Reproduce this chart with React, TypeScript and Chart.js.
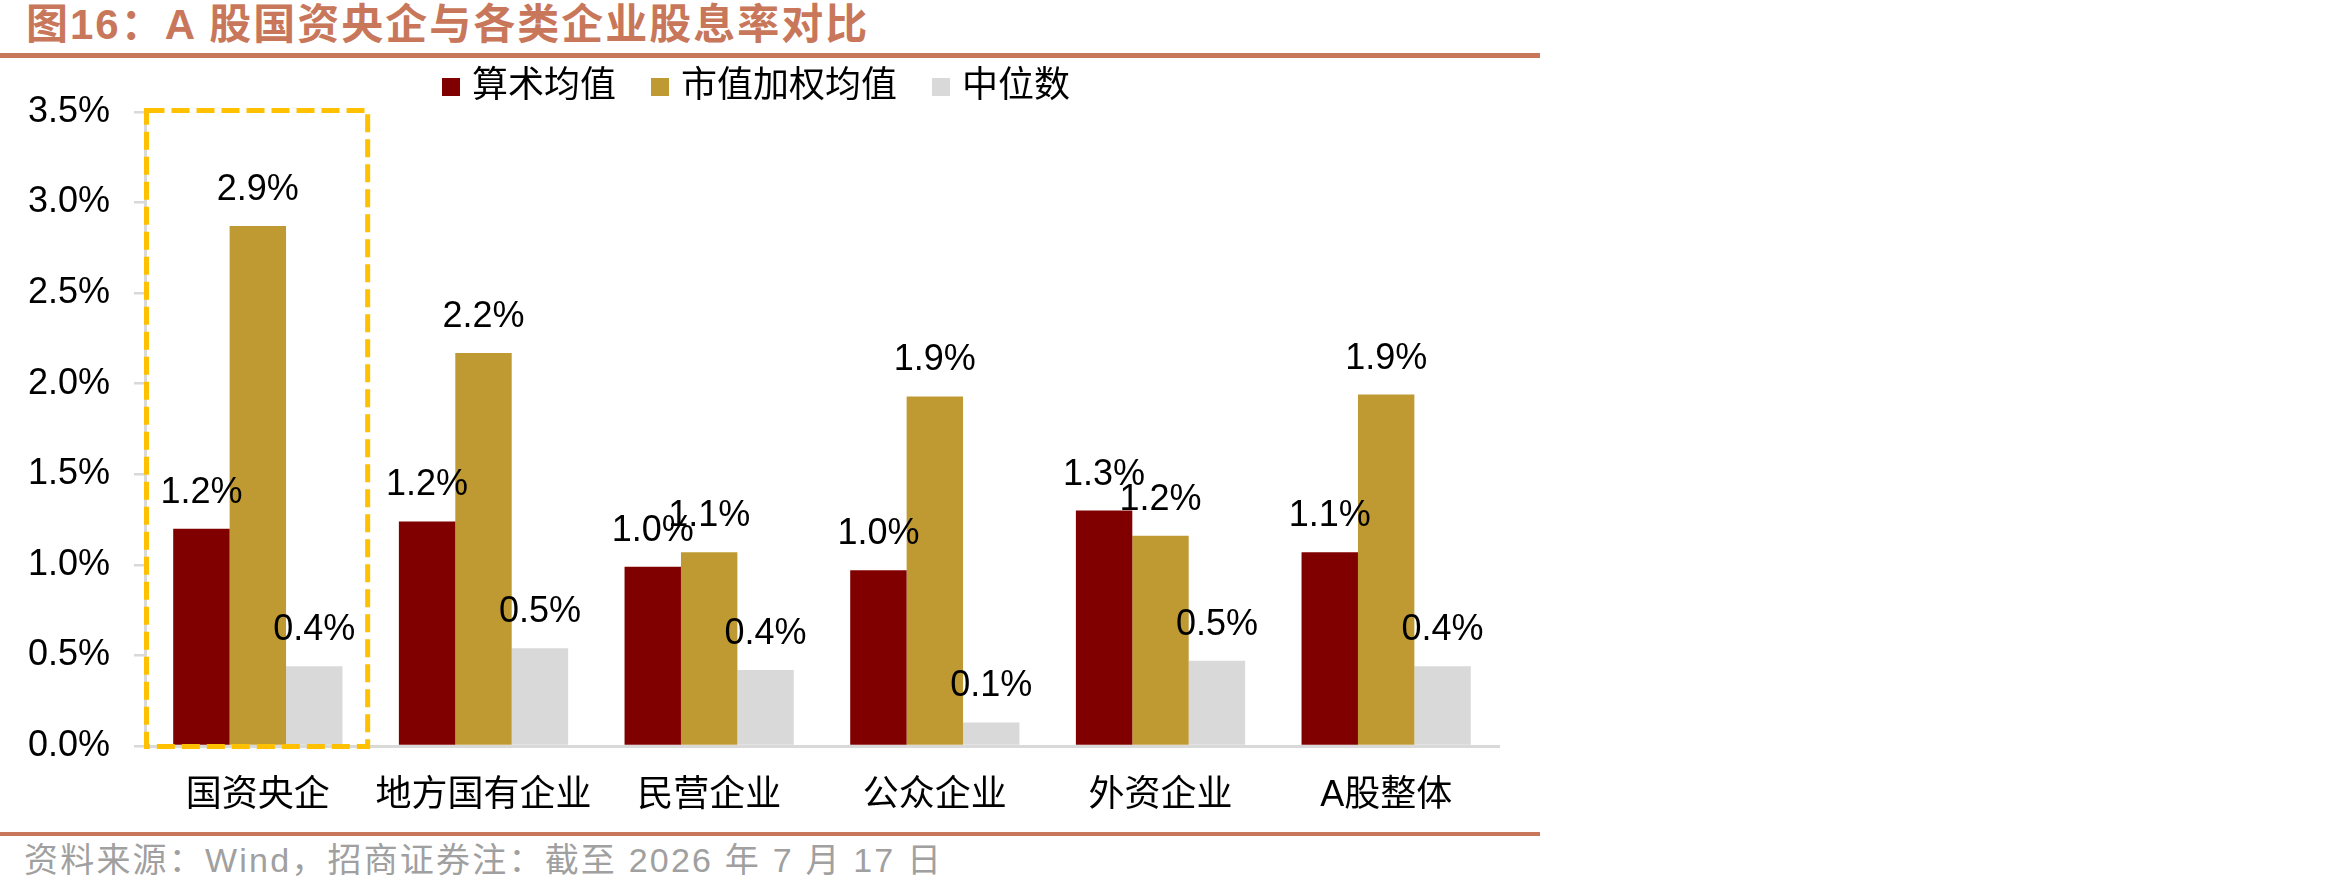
import React, { useEffect, useRef } from "react";
import { Chart, registerables } from "chart.js";

Chart.register(...registerables);

// ---- data ----
const categories = ["国资央企", "地方国有企业", "民营企业", "公众企业", "外资企业", "A股整体"];
const seriesNames = ["算术均值", "市值加权均值", "中位数"];
const arithmeticMean = [1.2, 1.24, 0.99, 0.97, 1.3, 1.07];
const weightedMean = [2.87, 2.17, 1.07, 1.93, 1.16, 1.94];
const medianValues = [0.44, 0.54, 0.42, 0.13, 0.47, 0.44];
const yMin = 0;
const yMax = 3.5;
const yStep = 0.5;
const highlightCategory = "国资央企";

const titleText = "图16：A 股国资央企与各类企业股息率对比";
const sourceText = "资料来源：Wind，招商证券注：截至 2026 年 7 月 17 日";

// ---- styles ----
const seriesColors = ["#800000", "#BF9A33", "#D9D9D9"];
const ruleColor = "#C8775A";
const axisColor = "#D9D9D9";
const FONT = '"Liberation Sans", "Noto Sans CJK SC", sans-serif';

const valueLabelPlugin = {
  id: "valueLabels",
  afterDatasetsDraw(chart: any) {
    const ctx = chart.ctx;
    ctx.save();
    ctx.font = `36px ${FONT}`;
    ctx.fillStyle = "#000";
    ctx.textAlign = "center";
    ctx.textBaseline = "alphabetic";
    chart.data.datasets.forEach((ds: any, i: number) => {
      const meta = chart.getDatasetMeta(i);
      meta.data.forEach((el: any, j: number) => {
        const v = ds.data[j] as number;
        ctx.fillText(v.toFixed(1) + "%", el.x, el.y - 26);
      });
    });
    ctx.restore();
  },
};

const legendPlugin = {
  id: "customLegend",
  afterDraw(chart: any) {
    const ctx = chart.ctx;
    ctx.save();
    ctx.font = `36px ${FONT}`;
    ctx.textBaseline = "middle";
    ctx.textAlign = "left";
    const box = 18;
    const gapBoxText = 12;
    const gapItems = 35;
    const cy = 27;
    const items = chart.data.datasets.map((ds: any) => ({
      label: ds.label,
      color: ds.backgroundColor,
      w: ctx.measureText(ds.label).width,
    }));
    const total =
      items.reduce((s: number, it: any) => s + box + gapBoxText + it.w, 0) +
      gapItems * (items.length - 1);
    let x = 756 - total / 2;
    items.forEach((it: any) => {
      ctx.fillStyle = it.color;
      ctx.fillRect(x, cy - box / 2, box, box);
      x += box + gapBoxText;
      ctx.fillStyle = "#000";
      ctx.fillText(it.label, x, cy);
      x += it.w + gapItems;
    });
    ctx.restore();
  },
};

const highlightPlugin = {
  id: "highlightBox",
  afterDraw(chart: any) {
    const xs = chart.scales.x;
    const ys = chart.scales.y;
    const idx = chart.data.labels.indexOf(highlightCategory);
    if (idx < 0) return;
    const band = (chart.chartArea.right - chart.chartArea.left) / chart.data.labels.length;
    const cx = xs.getPixelForValue(idx);
    const left = cx - band / 2 + 1.5;
    const right = cx + band / 2 - 3;
    const top = ys.getPixelForValue(yMax) - 1.5;
    const bottom = ys.getPixelForValue(yMin) + 0.5;
    const ctx = chart.ctx;
    ctx.save();
    ctx.strokeStyle = "#FFC000";
    ctx.lineWidth = 5;
    ctx.setLineDash([18, 7]);
    ctx.strokeRect(left, top, right - left, bottom - top);
    ctx.restore();
  },
};

function ChartBox() {
  const ref = useRef<HTMLCanvasElement | null>(null);
  useEffect(() => {
    if (!ref.current) return;
    const chart = new Chart(ref.current, {
      type: "bar",
      data: {
        labels: categories,
        datasets: [
          { label: seriesNames[0], data: arithmeticMean, backgroundColor: seriesColors[0], borderWidth: 0 },
          { label: seriesNames[1], data: weightedMean, backgroundColor: seriesColors[1], borderWidth: 0 },
          { label: seriesNames[2], data: medianValues, backgroundColor: seriesColors[2], borderWidth: 0 },
        ],
      },
      options: {
        responsive: false,
        animation: false,
        layout: { padding: { top: 52, right: 46, bottom: 0, left: 0 } },
        datasets: { bar: { categoryPercentage: 0.75, barPercentage: 1.0 } },
        plugins: {
          legend: { display: false },
          tooltip: { enabled: false },
          title: { display: false },
        },
        scales: {
          x: {
            offset: true,
            grid: { display: false, drawTicks: false },
            border: { display: true, color: axisColor, width: 3 },
            ticks: {
              color: "#000",
              font: { family: FONT, size: 36 },
              padding: 28,
              maxRotation: 0,
              autoSkip: false,
            },
            afterFit: (s: any) => {
              s.height = 84;
            },
          },
          y: {
            min: yMin,
            max: yMax,
            grid: {
              display: true,
              drawOnChartArea: false,
              drawTicks: true,
              tickLength: 11,
              color: axisColor,
              lineWidth: 2.5,
            },
            border: { display: true, color: axisColor, width: 3 },
            ticks: {
              stepSize: yStep,
              color: "#000",
              font: { family: FONT, size: 36 },
              padding: 24,
              callback: (v: any) => Number(v).toFixed(1) + "%",
            },
            afterFit: (s: any) => {
              s.width = 145;
            },
          },
        },
      } as any,
      plugins: [valueLabelPlugin, legendPlugin, highlightPlugin],
    });
    return () => chart.destroy();
  }, []);
  return <canvas ref={ref} width={1545} height={770} style={{ position: "absolute", left: 0, top: 60, display: "block" }} />;
}

export default function App() {
  return (
    <div style={{ position: "absolute", left: 0, top: 0, width: 2350, height: 894, background: "#fff", overflow: "hidden" }}>
      <div
        style={{
          position: "absolute",
          left: 26,
          top: 4,
          fontFamily: FONT,
          fontWeight: "bold",
          fontSize: 42,
          lineHeight: "42px",
          letterSpacing: 2,
          color: ruleColor,
          whiteSpace: "nowrap",
        }}
      >
        {titleText}
      </div>
      <div style={{ position: "absolute", left: 0, top: 53, width: 1540, height: 5, background: ruleColor }} />
      <ChartBox />
      <div style={{ position: "absolute", left: 0, top: 832, width: 1540, height: 4, background: ruleColor }} />
      <div
        style={{
          position: "absolute",
          left: 24,
          top: 843,
          fontFamily: FONT,
          fontSize: 34,
          lineHeight: "34px",
          letterSpacing: 2.2,
          color: "#A0A0A0",
          whiteSpace: "nowrap",
        }}
      >
        {sourceText}
      </div>
    </div>
  );
}
